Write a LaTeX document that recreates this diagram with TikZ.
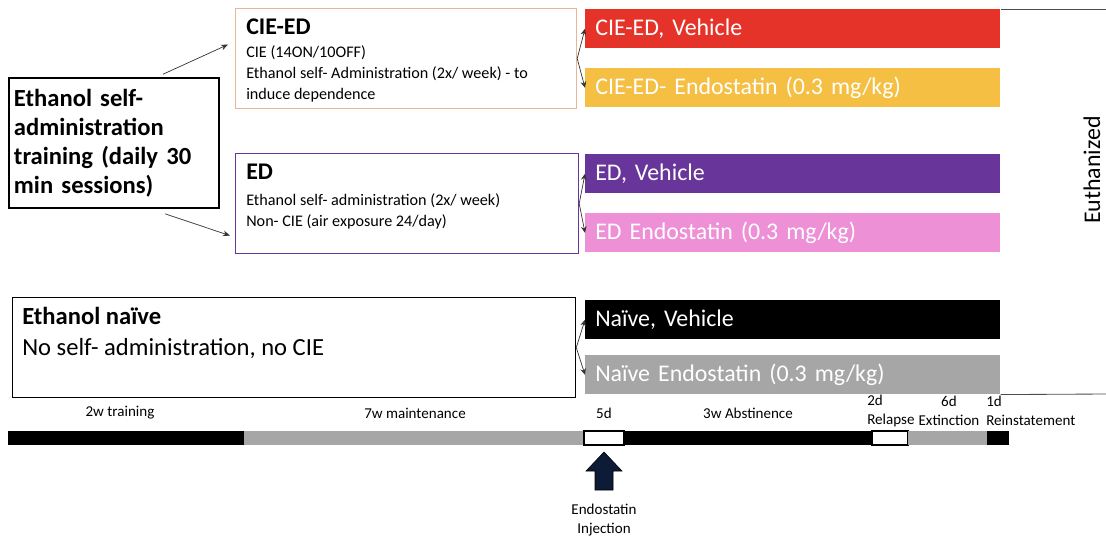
\documentclass[tikz,border=0pt]{standalone}
\usepackage{fontspec}
\setmainfont{Carlito}
\usetikzlibrary{arrows.meta, positioning}
\definecolor{cred}{HTML}{E5332A}
\definecolor{cyel}{HTML}{F4BF42}
\definecolor{cpur}{HTML}{68369A}
\definecolor{cpnk}{HTML}{EE90D6}
\definecolor{cgry}{HTML}{A6A6A6}
\definecolor{ctan}{HTML}{E9B797}
\definecolor{cnavy}{HTML}{0E1B36}

\begin{document}
\begin{tikzpicture}[
  x=0.025cm, y=-0.025cm,
  grp/.style={rectangle, draw, line width=0.8pt, inner sep=0pt, anchor=north west},
  grptext/.style={anchor=north west, align=left, inner sep=0pt},
  bar/.style={rectangle, anchor=north west, inner xsep=0.25cm, inner ysep=0pt,
              minimum height=0.975cm, text width=9.875cm, text=white,
              font=\fontsize{17}{20}\selectfont, align=left},
  fork/.style={-{Stealth[length=4.5pt,width=4pt]}, line width=0.5pt, black!80},
  arr/.style={-{Stealth[length=5pt,width=4pt]}, line width=0.5pt, black!80},
  tl/.style={font=\fontsize{10.7}{13.5}\selectfont, inner sep=0pt},
]
  \useasboundingbox (0,0) rectangle (1106,540);

  % training box
  \node[rectangle, draw, line width=1.1pt, minimum width=5.25cm, minimum height=3.25cm,
        text width=5.0cm, align=left, font=\fontsize{17.5}{20.6}\selectfont\bfseries]
    (train) at (114,143) {Ethanol self-\\ administration\\ training (daily 30\\ min sessions)};

  % group boxes
  \node[grp, draw=ctan, minimum width=8.525cm, minimum height=2.5cm] (cie) at (235,8) {};
  \node[grptext, font=\fontsize{11.5}{15}\selectfont] (ciet) at (246,19)
    {{\fontsize{17}{15}\selectfont\bfseries CIE-ED}\\[1pt] CIE (14ON/10OFF)\\
     Ethanol self- Administration (2x/ week) - to\\ induce dependence};

  \node[grp, draw=cpur, minimum width=8.575cm, minimum height=2.5cm] (ed) at (235,153) {};
  \node[grptext, font=\fontsize{11.5}{15}\selectfont] (edt) at (246,164)
    {{\fontsize{17}{15}\selectfont\bfseries ED}\\[3pt] Ethanol self- administration (2x/ week)\\
     Non- CIE (air exposure 24/day)};

  \node[grp, draw=black, minimum width=14.075cm, minimum height=2.5cm] (nai) at (12,297) {};
  \node[grptext, font=\fontsize{17.5}{22}\selectfont] (nait) at (22,307)
    {\textbf{Ethanol na\"ive}\\ No self- administration, no CIE};

  % treatment bars
  \node[bar, fill=cred] (civ) at (585,9) {CIE-ED, Vehicle};
  \node[bar, fill=cyel] (cien) at (585,68) {CIE-ED- Endostatin (0.3 mg/kg)};
  \node[bar, fill=cpur] (edv) at (585,154) {ED, Vehicle};
  \node[bar, fill=cpnk] (eden) at (585,213) {ED Endostatin (0.3 mg/kg)};
  \node[bar, fill=black] (nv) at (585,300) {Na\"ive, Vehicle};
  \node[bar, fill=cgry] (nen) at (585,355) {Na\"ive Endostatin (0.3 mg/kg)};

  \draw[arr] ([xshift=1.225cm, yshift=0.075cm]train.north) -- ([xshift=-0.175cm, yshift=0.35cm]cie.west);
  \draw[arr] ([xshift=1.275cm, yshift=-0.125cm]train.south) -- ([xshift=-0.125cm, yshift=-0.8cm]ed.west);

  \draw[fork] (cie.east) -- (civ.west);
  \draw[fork] (cie.east) -- (cien.west);
  \draw[fork] (ed.east) -- (edv.west);
  \draw[fork] (ed.east) -- (eden.west);
  \draw[fork] (nai.east) -- (nv.west);
  \draw[fork] (nai.east) -- (nen.west);

  % euthanized
  \coordinate (eutop) at (1106,9);
  \coordinate (eubot) at (1106,394);
  \draw[line width=0.6pt, black!70] (civ.north east) -- (eutop);
  \draw[line width=0.6pt, black!70] (nen.south east) -- (eubot);
  \node[rotate=90, font=\fontsize{17}{20}\selectfont] (euth) at (1092,170) {Euthanized};

  % timeline
  \fill[black] (8,431) rectangle (244,445);
  \fill[cgry] (244,431) rectangle (584,445);
  \filldraw[fill=white, draw=black, line width=0.8pt] (584,431) rectangle (624,445);
  \fill[black] (624,431) rectangle (872,445);
  \filldraw[fill=white, draw=black, line width=0.8pt] (872,431) rectangle (908,445);
  \fill[cgry] (908,431) rectangle (987,445);
  \fill[black] (987,431) rectangle (1009,445);

  \node[tl] (l1) at (120,413) {2w training};
  \node[tl] (l2) at (415,413) {7w maintenance};
  \node[tl] (l3) at (604,413) {5d};
  \node[tl] (l4) at (748,413) {3w Abstinence};
  \node[tl, align=left, anchor=west] (l5) at (867,411) {2d\\Relapse};
  \node[tl, align=center] (l6) at (949,411) {6d\\Extinction};
  \node[tl, align=left, anchor=west] (l7) at (986,411) {1d\\Reinstatement};

  % injection arrow
  \filldraw[fill=cnavy, draw=black, line width=0.4pt]
    (604,452) -- (622,471) -- (613,471) -- (613,490) -- (595,490) -- (595,471) -- (586,471) -- cycle;
  \node[tl, align=center] (inj) at (604,520) {Endostatin\\Injection};
\end{tikzpicture}
\end{document}
